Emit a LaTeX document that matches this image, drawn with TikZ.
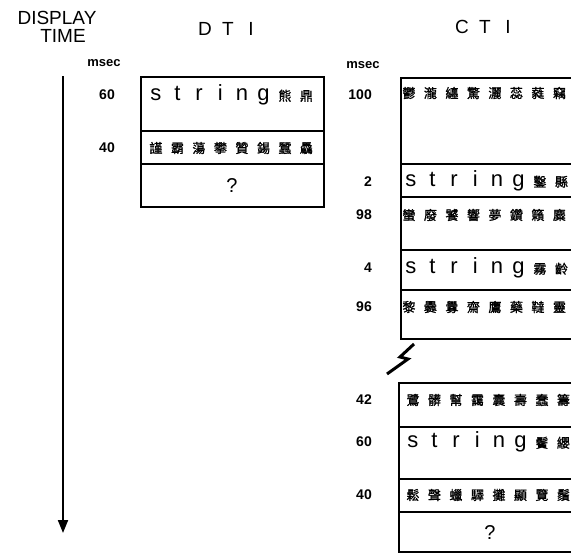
\documentclass[tikz,border=0pt]{standalone}
\usepackage{fontspec}
\setmainfont{Liberation Sans}
\newfontfamily\cjk[FakeBold=1.2]{Noto Sans CJK SC}
\usetikzlibrary{arrows.meta}
\newcommand\cel[1]{\makebox[21.5pt]{#1}}
\newcommand\gl[1]{\makebox[21.5pt]{\cjk #1}}
\newcommand\hd[1]{\makebox[23pt]{#1}}
\newcommand\strg{\cel{s}\cel{t}\cel{r}\cel{i}\cel{n}\cel{g}}
\newcommand\gsz{\fontsize{13}{13}\selectfont}
\tikzset{
  x=1pt, y=-1pt,
  frame/.style={line width=1.6pt},
  divider/.style={line width=1.3pt},
  rowtext/.style={anchor=west, inner sep=0pt, font=\fontsize{22}{22}\selectfont},
  glyphs/.style={anchor=west, inner sep=0pt, font=\gsz},
  ms/.style={anchor=east, inner sep=0pt, font=\fontsize{14}{14}\selectfont\bfseries},
  head/.style={inner sep=0pt, font=\fontsize{19}{19}\selectfont},
  qmark/.style={inner sep=0pt, font=\fontsize{20}{20}\selectfont},
  unit/.style={inner sep=0pt, font=\fontsize{13}{13}\selectfont\bfseries},
}
\begin{document}
\begin{tikzpicture}
\useasboundingbox (0,0) rectangle (571,554);
\clip (0,0) rectangle (571,554);
\fill[white] (0,0) rectangle (571,554);

% headers
\node[head] (disp) at (57,18) {DISPLAY};
\node[head] (time) at (63,36) {TIME};
\node[head] (dti) at (228,29) {\hd{D}\hd{T}\hd{I}};
\node[head] (cti) at (485,27) {\hd{C}\hd{T}\hd{I}};
\node[unit] (ms1) at (104,63) {msec};
\node[unit] (ms2) at (363,65) {msec};

% time arrow
\coordinate (ta) at (63,76);
\coordinate (tb) at (63,533);
\draw[line width=2pt, -{Triangle[width=10pt,length=13pt]}] (ta) -- (tb);

% DTI box
\draw[frame] (141,77) rectangle (324,207);
\draw[divider] (141,131) -- (324,131);
\draw[divider] (141,164) -- (324,164);
\node[ms] (d60) at (115,95) {60};
\node[ms] (d40) at (115,148) {40};
\node[rowtext] (ds) at (145,95) {\strg\gsz\gl{熊}\gl{鼎}};
\node[glyphs] (dg) at (145,148) {\gl{謹}\gl{霸}\gl{蕩}\gl{攀}\gl{贊}\gl{錫}\gl{蠶}\gl{驫}};
\node[qmark] (dq) at (232,186) {?};

% CTI box 1
\draw[frame] (401,78) rectangle (585,339);
\draw[divider] (401,164) -- (585,164);
\draw[divider] (401,197) -- (585,197);
\draw[divider] (401,250) -- (585,250);
\draw[divider] (401,290) -- (585,290);
\node[ms] (c100) at (372,95) {100};
\node[ms] (c2) at (372,182) {2};
\node[ms] (c98) at (372,215) {98};
\node[ms] (c4) at (372,268) {4};
\node[ms] (c96) at (372,307) {96};
\node[glyphs] (g100) at (398,93) {\gl{鬱}\gl{瀧}\gl{纏}\gl{驚}\gl{灑}\gl{蕊}\gl{蕤}\gl{竊}};
\node[rowtext] (s2) at (400,181) {\strg\gsz\gl{鑿}\gl{縣}};
\node[glyphs] (g98) at (398,215) {\gl{蠻}\gl{廢}\gl{饕}\gl{響}\gl{夢}\gl{鑽}\gl{籟}\gl{麋}};
\node[rowtext] (s4) at (400,268) {\strg\gsz\gl{霧}\gl{齡}};
\node[glyphs] (g96) at (398,307) {\gl{黎}\gl{爨}\gl{釁}\gl{齋}\gl{鷹}\gl{藥}\gl{韃}\gl{靈}};

% break mark
\draw[line width=3pt, line join=miter] (414,344) -- (400,357) -- (408,359) -- (387,374);

% CTI box 2
\draw[frame] (399,383) rectangle (583,552);
\draw[divider] (399,427) -- (583,427);
\draw[divider] (399,479) -- (583,479);
\draw[divider] (399,512) -- (583,512);
\node[ms] (c42) at (372,400) {42};
\node[ms] (c60) at (372,442) {60};
\node[ms] (c40) at (372,495) {40};
\node[glyphs] (g42) at (402,400) {\gl{鷺}\gl{髒}\gl{幫}\gl{靄}\gl{囊}\gl{壽}\gl{蠢}\gl{籌}};
\node[rowtext] (s60) at (402,442) {\strg\gsz\gl{鬢}\gl{纓}};
\node[glyphs] (g40) at (402,495) {\gl{鬆}\gl{聲}\gl{蠟}\gl{驛}\gl{攤}\gl{顯}\gl{覽}\gl{鬚}};
\node[qmark] (cq) at (490,533) {?};
\end{tikzpicture}
\end{document}
